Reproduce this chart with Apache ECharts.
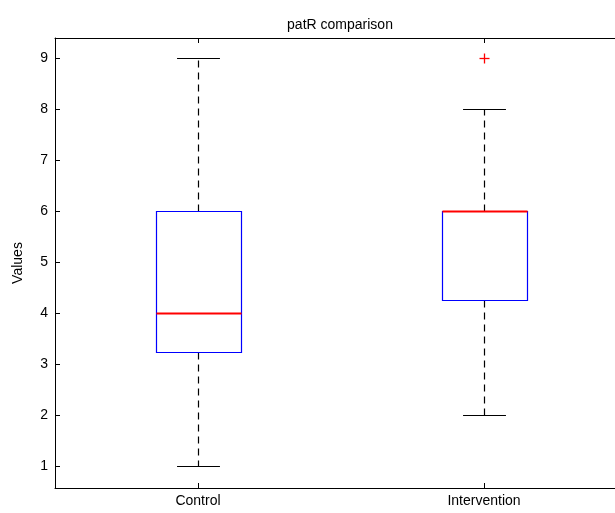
<!DOCTYPE html>
<html>
<head>
<meta charset="utf-8">
<script src="https://cdn.jsdelivr.net/npm/echarts@6/dist/echarts.min.js"></script>
<style>
html,body{margin:0;padding:0;background:#fff;}
#chart{width:615px;height:513px;}
</style>
</head>
<body>
<div id="chart"></div>
<script>
// Data
var categories = ['Control', 'Intervention'];
var positions = [1, 2];
var lowerWhisker = [1, 2];
var q1 = [3.23, 4.25];
var median = [4, 6];
var q3 = [6, 6];
var upperWhisker = [9, 8];
var outliers = [[2, 9]]; // [position, value]
var yTicks = [1, 2, 3, 4, 5, 6, 7, 8, 9];

var boxData = categories.map(function (c, i) {
  return [positions[i], lowerWhisker[i], q1[i], q3[i], upperWhisker[i]];
});
var medianData = categories.map(function (c, i) {
  return [positions[i], median[i]];
});

var chart = echarts.init(document.getElementById('chart'), null, {renderer: 'canvas'});
var FONT = 'Liberation Sans, Arial, sans-serif';
var LW = 1.2;

function r(v){ return Math.round(v) + 0.5; }

function renderBox(params, api) {
  var x = api.value(0);
  var unit = api.size([1, 0])[0];
  var hb = unit * 0.15, hc = unit * 0.075;
  var pLo = api.coord([x, api.value(1)]);
  var pQ1 = api.coord([x, api.value(2)]);
  var pQ3 = api.coord([x, api.value(3)]);
  var pHi = api.coord([x, api.value(4)]);
  var cx = r(pQ1[0]);
  var dash = {stroke: '#000000', fill: null, lineWidth: LW, lineDash: [7, 5]};
  var solid = {stroke: '#000000', fill: null, lineWidth: LW};
  var left = Math.round(cx - hb), right = Math.round(cx + hb);
  return {
    type: 'group',
    children: [
      {type: 'line', shape: {x1: cx, y1: r(pQ3[1]), x2: cx, y2: r(pHi[1])}, style: dash},
      {type: 'line', shape: {x1: cx, y1: r(pQ1[1]), x2: cx, y2: r(pLo[1])}, style: dash},
      {type: 'line', shape: {x1: cx - hc, y1: r(pHi[1]), x2: cx + hc, y2: r(pHi[1])}, style: solid},
      {type: 'line', shape: {x1: cx - hc, y1: r(pLo[1]), x2: cx + hc, y2: r(pLo[1])}, style: solid},
      {type: 'rect', shape: {x: left + 0.5, y: r(pQ3[1]), width: right - left, height: Math.round(pQ1[1] - pQ3[1])},
        style: {fill: null, stroke: '#0000ff', lineWidth: LW}}
    ]
  };
}

function renderMedian(params, api) {
  var x = api.value(0);
  var unit = api.size([1, 0])[0];
  var hb = unit * 0.15;
  var p = api.coord([x, api.value(1)]);
  var cx = r(p[0]);
  var left = Math.round(cx - hb) + 0.5, right = Math.round(cx + hb) + 0.5;
  var y = r(p[1]);
  return {
    type: 'line',
    shape: {x1: left, y1: y, x2: right, y2: y},
    style: {stroke: '#ff0000', fill: null, lineWidth: 1.8}
  };
}

function renderOutlier(params, api) {
  var p = api.coord([api.value(0), api.value(1)]);
  var cx = Math.round(p[0]) + 0.5, cy = Math.round(p[1]) + 0.5, s = 5;
  var st = {stroke: '#ff0000', fill: null, lineWidth: 1.3};
  return {
    type: 'group',
    children: [
      {type: 'line', shape: {x1: cx - s, y1: cy, x2: cx + s, y2: cy}, style: st},
      {type: 'line', shape: {x1: cx, y1: cy - s, x2: cx, y2: cy + s}, style: st}
    ]
  };
}

var axisLine = {show: true, lineStyle: {color: '#000', width: 1}};

var option = {
  backgroundColor: '#fff',
  animation: false,
  title: {
    text: 'patR comparison',
    left: 335, top: 13, textAlign: 'center',
    textStyle: {fontFamily: FONT, fontSize: 14, fontWeight: 'normal', color: '#000'}
  },
  grid: {left: 55, top: 38, width: 560, height: 450, containLabel: false},
  xAxis: [{
    type: 'value', min: 0.5, max: 0.5 + 560 / 286, position: 'bottom',
    axisLine: axisLine, splitLine: {show: false},
    axisTick: {show: true, inside: true, length: 5, customValues: positions, lineStyle: {color: '#000'}},
    axisLabel: {show: true, color: '#000', fontFamily: FONT, fontSize: 14, margin: 6, customValues: positions,
      formatter: function (v) { var i = positions.indexOf(Math.round(v)); return i >= 0 ? categories[i] : ''; }}
  }, {
    type: 'value', min: 0.5, max: 0.5 + 560 / 286, position: 'top',
    axisLine: axisLine, splitLine: {show: false},
    axisTick: {show: true, inside: true, length: 5, customValues: positions, lineStyle: {color: '#000'}},
    axisLabel: {show: false}
  }],
  yAxis: {
    type: 'value', min: 0.57, max: 9.39,
    name: 'Values', nameLocation: 'middle', nameGap: 30, nameRotate: 90,
    nameTextStyle: {fontFamily: FONT, fontSize: 14, color: '#000'},
    axisLine: axisLine, splitLine: {show: false},
    axisTick: {show: true, inside: true, length: 5, customValues: yTicks, lineStyle: {color: '#000'}},
    axisLabel: {show: true, color: '#000', fontFamily: FONT, fontSize: 14, margin: 7, customValues: yTicks}
  },
  series: [{
    type: 'custom', renderItem: renderBox, data: boxData,
    encode: {x: 0, y: [1, 2, 3, 4]}, silent: true, z: 2
  }, {
    type: 'custom', renderItem: renderMedian, data: medianData,
    encode: {x: 0, y: 1}, silent: true, z: 3
  }, {
    type: 'custom', renderItem: renderOutlier, data: outliers,
    encode: {x: 0, y: 1}, silent: true, z: 3
  }]
};
chart.setOption(option);
</script>
</body>
</html>
